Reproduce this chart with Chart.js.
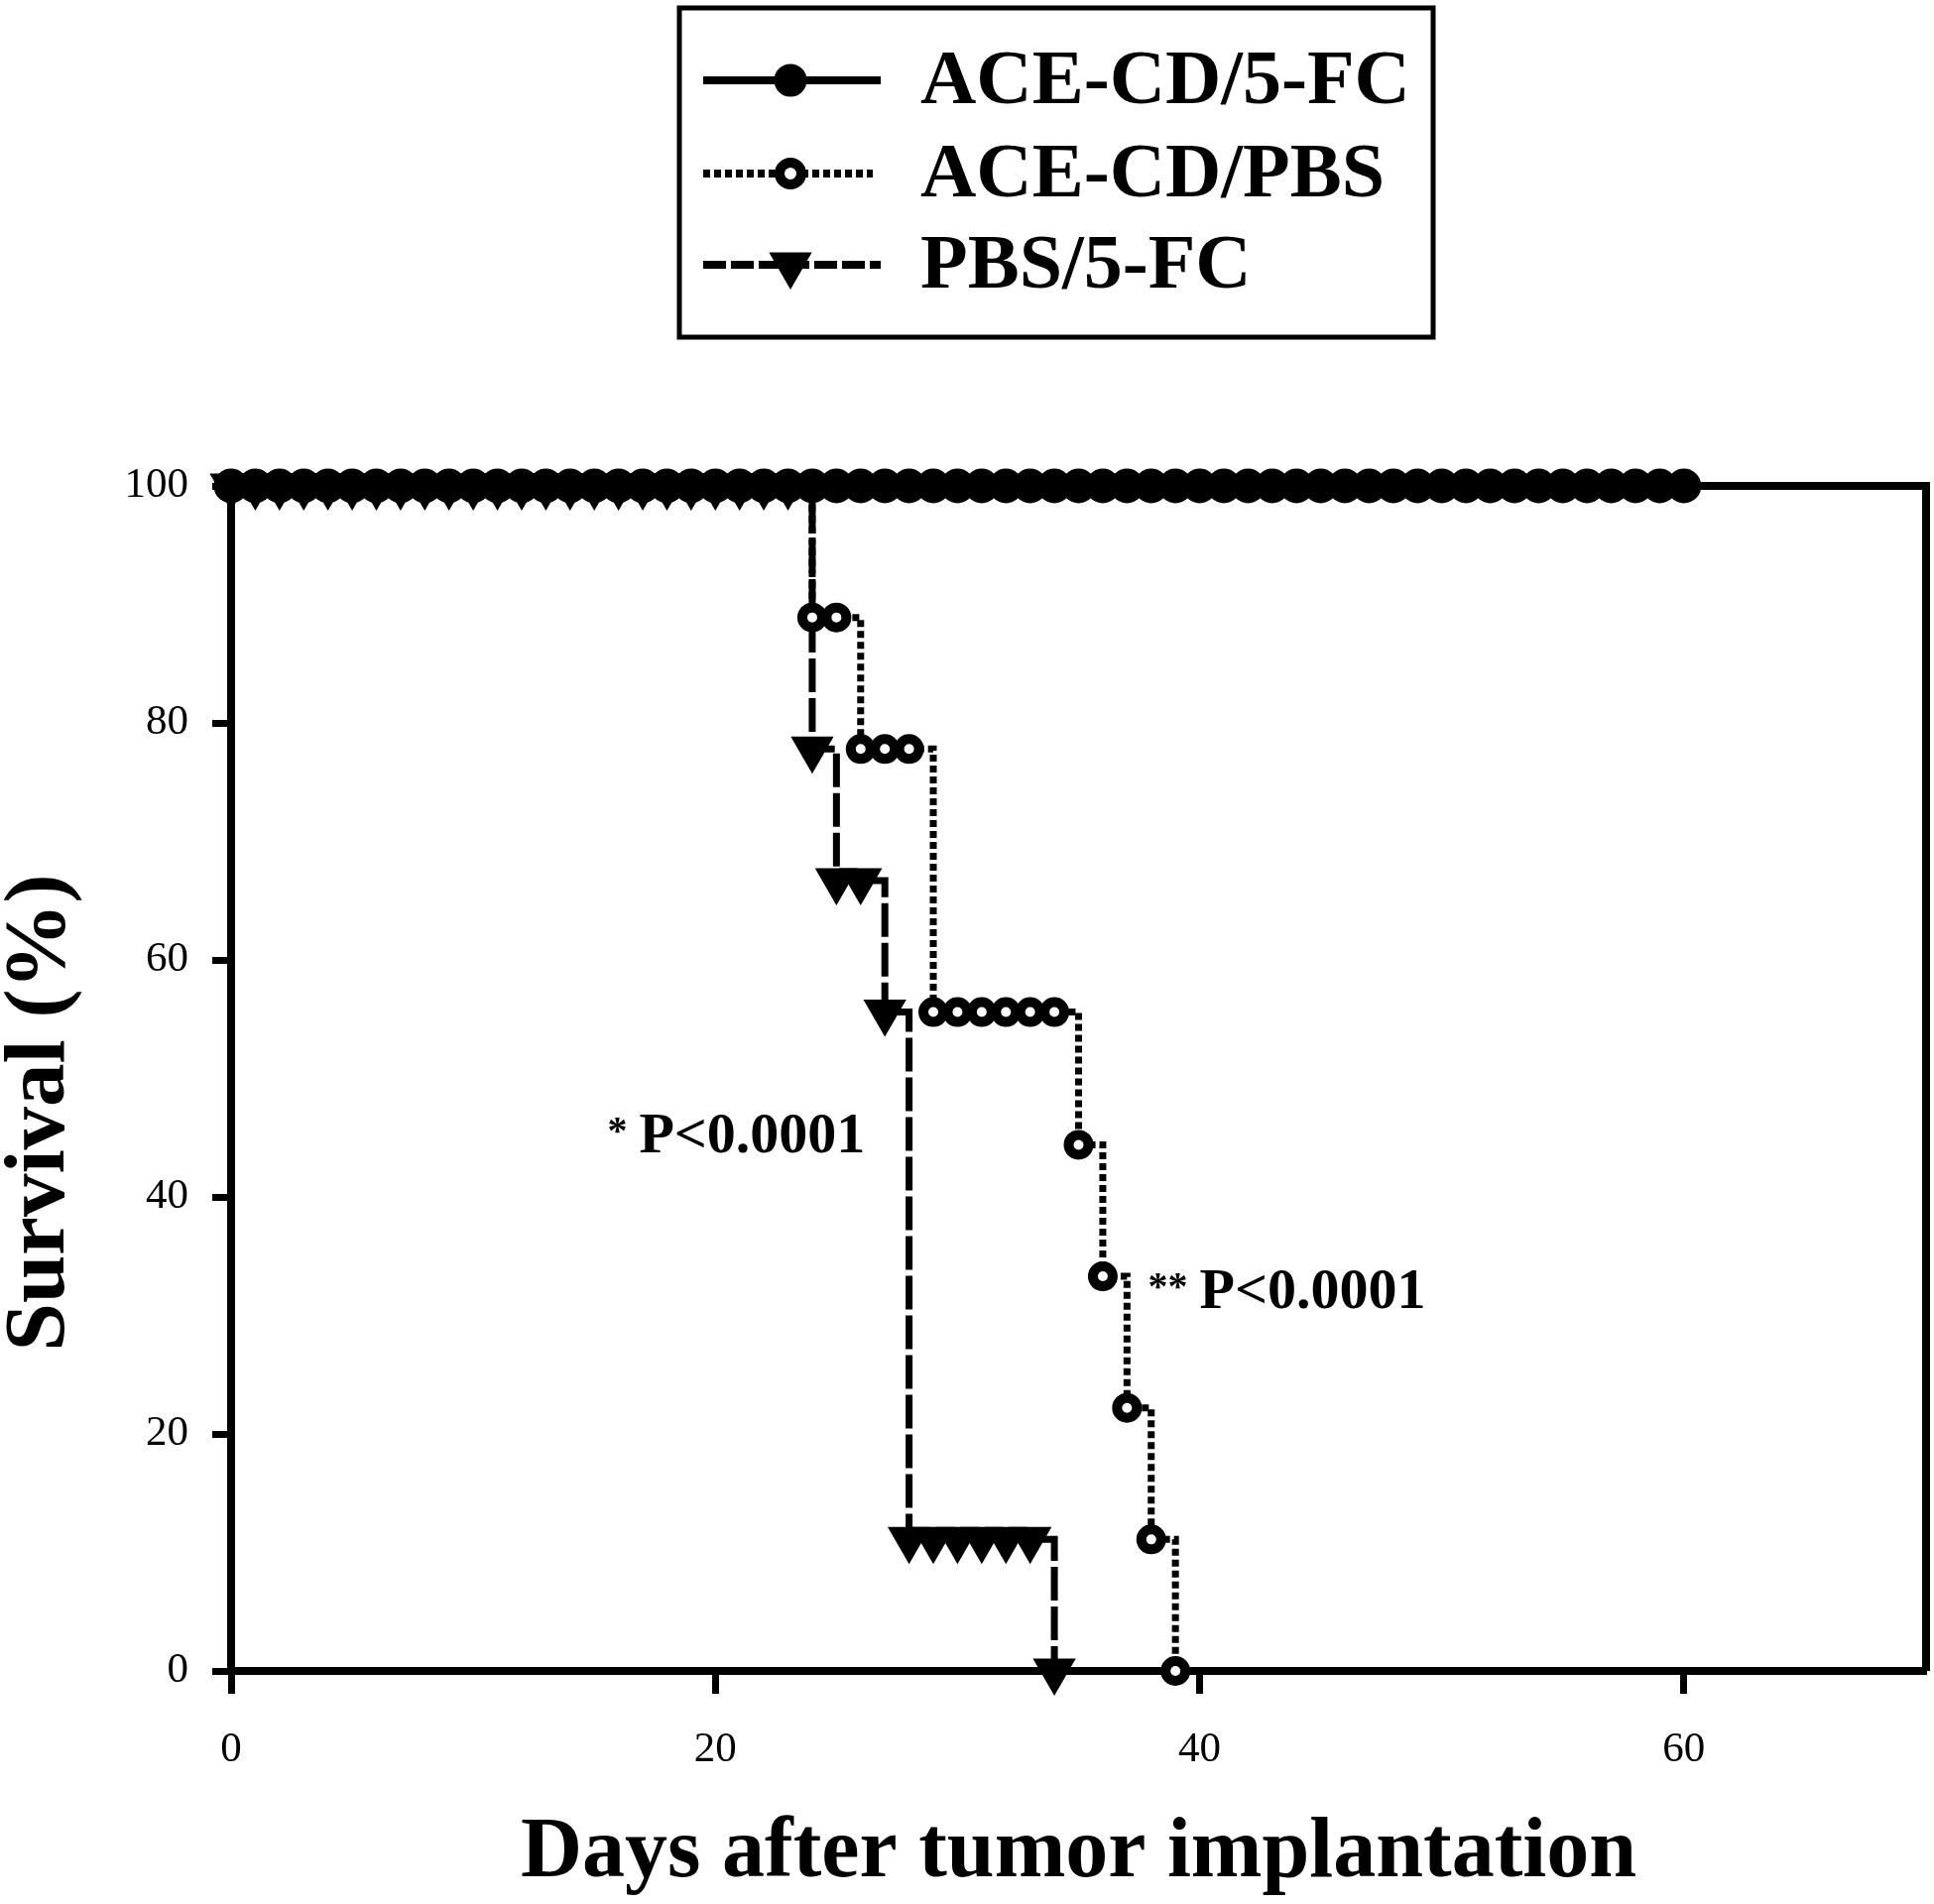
<!DOCTYPE html>
<html>
<head>
<meta charset="utf-8">
<title>Survival after tumor implantation</title>
<script src="https://cdn.jsdelivr.net/npm/chart.js@4.4.1/dist/chart.umd.min.js"></script>
<style>
  html, body { margin: 0; padding: 0; background: #fff; }
  #survivalChart { display: block; }
</style>
</head>
<body>
<canvas id="survivalChart" width="1950" height="1920"></canvas>
<script>
/* ============================================
   DATA (9 animals per group)
   ============================================ */

const days = [
  0, 1, 2, 3, 4, 5, 6, 7, 8, 9,
  10, 11, 12, 13, 14, 15, 16, 17, 18, 19,
  20, 21, 22, 23, 24, 25, 26, 27, 28, 29,
  30, 31, 32, 33, 34, 35, 36, 37, 38, 39,
  40, 41, 42, 43, 44, 45, 46, 47, 48, 49,
  50, 51, 52, 53, 54, 55, 56, 57, 58, 59,
  60
];

const seriesNames = ['ACE-CD/5-FC', 'ACE-CD/PBS', 'PBS/5-FC'];

// ACE-CD/5-FC: all animals alive until day 60
const survivalAceCd5fc = [
  100, 100, 100, 100, 100, 100, 100, 100, 100, 100,
  100, 100, 100, 100, 100, 100, 100, 100, 100, 100,
  100, 100, 100, 100, 100, 100, 100, 100, 100, 100,
  100, 100, 100, 100, 100, 100, 100, 100, 100, 100,
  100, 100, 100, 100, 100, 100, 100, 100, 100, 100,
  100, 100, 100, 100, 100, 100, 100, 100, 100, 100,
  100
];

// ACE-CD/PBS: days 0..39
const survivalAceCdPbs = [
  100, 100, 100, 100, 100, 100, 100, 100, 100, 100,
  100, 100, 100, 100, 100, 100, 100, 100, 100, 100,
  100, 100, 100, 100, 88.9, 88.9, 77.8, 77.8, 77.8, 55.6,
  55.6, 55.6, 55.6, 55.6, 55.6, 44.4, 33.3, 22.2, 11.1, 0
];

// PBS/5-FC: days 0..34
const survivalPbs5fc = [
  100, 100, 100, 100, 100, 100, 100, 100, 100, 100,
  100, 100, 100, 100, 100, 100, 100, 100, 100, 100,
  100, 100, 100, 100, 77.8, 66.7, 66.7, 55.6, 11.1, 11.1,
  11.1, 11.1, 11.1, 11.1, 0
];

const xTicks = [0, 20, 40, 60];
const yTicks = [0, 20, 40, 60, 80, 100];

const annotations = [
  { star: '*', text: 'P<0.0001', day: 16.85, survival: 43.8 },
  { star: '**', text: 'P<0.0001', day: 40.0, survival: 30.6 },
];

/* ============================================
   HELPERS
   ============================================ */

const SERIF = '"Liberation Serif", "Times New Roman", Times, serif';

function toPoints(values) {
  return values.map((v, i) => ({ x: days[i], y: v }));
}

// marker drawn the same way Chart.js draws its point styles
function drawMarker(ctx, style, x, y) {
  ctx.save();
  ctx.setLineDash([]);
  ctx.lineWidth = style.borderWidth;
  ctx.fillStyle = style.fill;
  ctx.strokeStyle = '#000';
  ctx.beginPath();
  if (style.shape === 'triangle') {
    const r = style.radius;
    ctx.moveTo(x, y + r);
    ctx.lineTo(x - 0.866 * r, y - r / 2);
    ctx.lineTo(x + 0.866 * r, y - r / 2);
    ctx.closePath();
  } else {
    ctx.arc(x, y, style.radius, 0, Math.PI * 2);
  }
  ctx.fill();
  ctx.stroke();
  ctx.restore();
}

/* ============================================
   PLUGINS
   ============================================ */

// top and right edges of the plot box
const frameLines = {
  id: 'frameLines',
  beforeDatasetsDraw(chart) {
    const { ctx, chartArea } = chart;
    ctx.save();
    ctx.strokeStyle = '#000';
    ctx.lineWidth = 8;
    ctx.beginPath();
    ctx.moveTo(chartArea.left, chartArea.top);
    ctx.lineTo(chartArea.right, chartArea.top);
    ctx.lineTo(chartArea.right, chartArea.bottom);
    ctx.stroke();
    ctx.restore();
  }
};

// vertical axis title, placed a little below the middle as in the figure
const yTitle = {
  id: 'yTitle',
  afterDraw(chart) {
    const ctx = chart.ctx;
    ctx.save();
    ctx.translate(42, 1122);
    ctx.rotate(-Math.PI / 2);
    ctx.fillStyle = '#000';
    ctx.font = 'bold 87px ' + SERIF;
    ctx.textAlign = 'center';
    ctx.textBaseline = 'middle';
    ctx.fillText('Survival (%)', 0, 0);
    ctx.restore();
  }
};

// boxed legend above the plot, line sample + marker + label
const boxLegend = {
  id: 'boxLegend',
  afterDraw(chart) {
    const ctx = chart.ctx;
    const rows = [81, 175, 267];
    const samples = [
      { dash: [], width: 8, lineEnd: 888, marker: { shape: 'circle', radius: 15, borderWidth: 3, fill: '#000' } },
      { dash: [7, 4], width: 8, lineEnd: 880, marker: { shape: 'circle', radius: 11, borderWidth: 10, fill: '#fff' } },
      { dash: [23, 5], width: 8, lineEnd: 888, marker: { shape: 'triangle', radius: 23, borderWidth: 2, fill: '#000' } },
    ];

    ctx.save();
    ctx.strokeStyle = '#000';
    ctx.lineWidth = 5;
    ctx.strokeRect(685, 8, 760, 332);

    seriesNames.forEach((name, i) => {
      const y = rows[i];
      const s = samples[i];
      ctx.setLineDash(s.dash);
      ctx.lineWidth = s.width;
      ctx.beginPath();
      ctx.moveTo(709, y);
      ctx.lineTo(s.lineEnd, y);
      ctx.stroke();
      drawMarker(ctx, s.marker, 797, y);

      ctx.setLineDash([]);
      ctx.fillStyle = '#000';
      ctx.font = 'bold 78px ' + SERIF;
      ctx.textAlign = 'left';
      ctx.textBaseline = 'middle';
      ctx.fillText(name, 928, y + 3);
    });
    ctx.restore();
  }
};

// significance labels inside the plot
const pValueLabels = {
  id: 'pValueLabels',
  afterDatasetsDraw(chart) {
    const { ctx, scales } = chart;
    ctx.save();
    ctx.fillStyle = '#000';
    ctx.textBaseline = 'alphabetic';
    annotations.forEach(a => {
      const x = scales.x.getPixelForValue(a.day);
      const y = scales.y.getPixelForValue(a.survival);
      ctx.font = 'bold 58px ' + SERIF;
      ctx.textAlign = 'left';
      ctx.fillText(a.text, x, y);
      ctx.font = 'bold 40px ' + SERIF;
      ctx.textAlign = 'right';
      ctx.fillText(a.star, x - 12, y - 9);
    });
    ctx.restore();
  }
};

/* ============================================
   CHART
   ============================================ */

const axisGrid = (tickLength) => ({
  display: true,
  drawOnChartArea: false,
  drawTicks: true,
  tickLength: tickLength,
  tickWidth: 7,
  tickColor: '#000',
  color: '#000',
});

const axisBorder = { display: true, color: '#000', width: 8 };

const ctx = document.getElementById('survivalChart').getContext('2d');

new Chart(ctx, {
  type: 'line',
  data: {
    datasets: [
      {
        label: seriesNames[0],
        data: toPoints(survivalAceCd5fc),
        stepped: 'before',
        borderColor: '#000',
        borderWidth: 6,
        pointStyle: 'circle',
        pointRadius: 16,
        pointBorderWidth: 3,
        pointBackgroundColor: '#000',
        pointBorderColor: '#000',
        clip: false,
      },
      {
        label: seriesNames[1],
        data: toPoints(survivalAceCdPbs),
        stepped: 'before',
        borderColor: '#000',
        borderWidth: 7,
        borderDash: [7, 4],
        pointStyle: 'circle',
        pointRadius: 10,
        pointBorderWidth: 10,
        pointBackgroundColor: '#fff',
        pointBorderColor: '#000',
        clip: false,
      },
      {
        label: seriesNames[2],
        data: toPoints(survivalPbs5fc),
        stepped: 'before',
        borderColor: '#000',
        borderWidth: 7,
        borderDash: [34, 6],
        pointStyle: 'triangle',
        pointRotation: 180,
        pointRadius: 23,
        pointBorderWidth: 2,
        pointBackgroundColor: '#000',
        pointBorderColor: '#000',
        clip: false,
      },
    ]
  },
  options: {
    responsive: false,
    devicePixelRatio: 1,
    animation: false,
    layout: {
      autoPadding: false,
      padding: { left: 0, right: 8, top: 490, bottom: 0 },
    },
    plugins: {
      legend: { display: false },
      tooltip: { enabled: false },
    },
    scales: {
      x: {
        type: 'linear',
        min: 0,
        max: 70,
        afterBuildTicks: (scale) => { scale.ticks = xTicks.map(v => ({ value: v })); },
        afterFit: (scale) => {
          scale.height = 235;
          scale.paddingLeft = 0;
          scale.paddingRight = 0;
        },
        grid: axisGrid(23),
        border: axisBorder,
        ticks: {
          padding: 31,
          color: '#000',
          font: { family: SERIF, size: 43 },
        },
        title: {
          display: true,
          text: 'Days after tumor implantation',
          color: '#000',
          font: { family: SERIF, size: 86, weight: 'bold', lineHeight: 1 },
          padding: { top: 0, bottom: 7 },
        },
      },
      y: {
        type: 'linear',
        min: 0,
        max: 100,
        afterBuildTicks: (scale) => { scale.ticks = yTicks.map(v => ({ value: v })); },
        afterFit: (scale) => { scale.width = 233; },
        grid: axisGrid(19),
        border: axisBorder,
        ticks: {
          padding: 24,
          color: '#000',
          font: { family: SERIF, size: 43 },
        },
        title: { display: false },
      },
    },
  },
  plugins: [frameLines, pValueLabels, yTitle, boxLegend],
});
</script>
</body>
</html>
